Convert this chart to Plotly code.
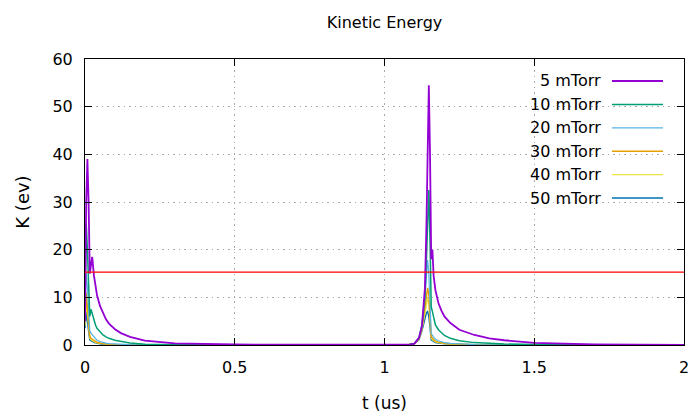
import plotly.graph_objects as go

# ---------------- data ----------------
t_us = [0, 0.004, 0.008, 0.012, 0.016, 0.02, 0.024, 0.03, 0.035, 0.04, 0.05, 0.06, 0.07, 0.08,
        0.1, 0.12, 0.15, 0.2, 0.3, 0.5, 0.8, 1.0, 1.08, 1.1, 1.115, 1.125, 1.135, 1.14, 1.144,
        1.148, 1.152, 1.156, 1.16, 1.164, 1.17, 1.18, 1.19, 1.2, 1.22, 1.25, 1.3, 1.35, 1.4,
        1.5, 1.7, 2.0]

k_5mtorr = [5, 30, 39, 30, 15, 17, 18.5, 14.5, 12.5, 10.5, 8.2, 6.6, 5.4, 4.5,
            3.3, 2.5, 1.7, 0.9, 0.35, 0.1, 0.03, 0, 0.05, 0.3, 1.5, 4, 12, 25, 45,
            54.5, 40, 18, 20, 14.5, 11.5, 8.8, 7.2, 6, 4.6, 3.2, 2.1, 1.4, 1.0,
            0.45, 0.12, 0.03]
k_10mtorr = [8, 25.5, 20, 10, 6, 7.5, 6.5, 5, 4.2, 3.5, 2.7, 2.1, 1.7, 1.4,
             1.0, 0.7, 0.4, 0.18, 0.06, 0.02, 0.01, 0, 0.05, 0.3, 1.5, 4, 10, 18, 28,
             32.5, 22, 8, 7, 5.5, 4.2, 3.2, 2.5, 2.0, 1.4, 0.9, 0.5, 0.3, 0.2,
             0.08, 0.02, 0]
k_20mtorr = [6, 15, 12, 6, 3, 2.5, 2.2, 1.6, 1.3, 1.0, 0.7, 0.5, 0.4, 0.3,
             0.2, 0.12, 0.07, 0.03, 0.01, 0, 0, 0, 0.05, 0.3, 1.5, 4.5, 10, 14, 17.8,
             15, 8, 2.5, 2, 1.6, 1.2, 0.9, 0.7, 0.5, 0.35, 0.2, 0.1, 0.05, 0.03,
             0.01, 0, 0]
k_30mtorr = [5, 11, 8, 4, 1.8, 1.4, 1.2, 0.9, 0.7, 0.55, 0.4, 0.3, 0.22, 0.17,
             0.1, 0.07, 0.04, 0.02, 0.01, 0, 0, 0, 0.05, 0.3, 1.3, 3.5, 8, 10.5, 12,
             10.5, 6, 1.8, 1.4, 1.1, 0.8, 0.6, 0.45, 0.35, 0.25, 0.15, 0.07, 0.04, 0.02,
             0.01, 0, 0]
k_40mtorr = [4, 9, 6.5, 3.2, 1.4, 1.1, 0.9, 0.7, 0.55, 0.45, 0.3, 0.22, 0.17, 0.13,
             0.08, 0.05, 0.03, 0.015, 0.005, 0, 0, 0, 0.05, 0.3, 1.2, 3.2, 7, 9, 9.8,
             8.5, 5, 1.4, 1.1, 0.9, 0.65, 0.5, 0.35, 0.28, 0.2, 0.12, 0.05, 0.03, 0.015,
             0.005, 0, 0]
k_50mtorr = [3.5, 7, 5, 2.5, 1.1, 0.9, 0.7, 0.55, 0.45, 0.35, 0.25, 0.18, 0.13, 0.1,
             0.06, 0.04, 0.02, 0.01, 0, 0, 0, 0, 0.05, 0.3, 1.1, 3, 5.8, 6.8, 7,
             6, 3.8, 1.1, 0.9, 0.7, 0.5, 0.4, 0.3, 0.22, 0.15, 0.1, 0.04, 0.02, 0.01,
             0, 0, 0]

series_names = ["5 mTorr", "10 mTorr", "20 mTorr", "30 mTorr", "40 mTorr", "50 mTorr"]
series_values = [k_5mtorr, k_10mtorr, k_20mtorr, k_30mtorr, k_40mtorr, k_50mtorr]
series_colors = ["#9400d3", "#009e73", "#56b4e9", "#e69f00", "#f0e442", "#0072b2"]
series_widths = [1.8, 1.5, 1.2, 1.5, 1.2, 1.5]

threshold_t = [0, 2]
threshold_k = [15.3, 15.3]

x_ticks = [0, 0.5, 1, 1.5, 2]
x_tick_labels = ["0", "0.5", "1", "1.5", "2"]
y_ticks = [0, 10, 20, 30, 40, 50, 60]

# ---------------- figure ----------------
FONT = "DejaVu Sans"
fig = go.Figure()

# draw from last to first so 5 mTorr sits on top
for name, vals, col, w in reversed(list(zip(series_names, series_values, series_colors, series_widths))):
    fig.add_trace(go.Scatter(x=t_us, y=vals, mode="lines", name=name,
                             line=dict(color=col, width=w), showlegend=False))

fig.add_trace(go.Scatter(x=threshold_t, y=threshold_k, mode="lines",
                         line=dict(color="#ff0000", width=1.2), showlegend=False))

# gnuplot-style legend (text right-aligned, sample line to the right)
L, R, T, B = 85, 684, 59, 345
def px_x(p):
    return (p - L) / (R - L)
def px_y(p):
    return (B - p) / (B - T)

row0, row_step = 81, 23.4
for i, (name, col, w) in enumerate(zip(series_names, series_colors, series_widths)):
    yy = px_y(row0 + i * row_step)
    fig.add_annotation(x=px_x(603), y=yy, xref="paper", yref="paper", text=name,
                       showarrow=False, xanchor="right", yanchor="middle",
                       font=dict(family=FONT, size=16, color="#000000"))
    fig.add_shape(type="line", xref="paper", yref="paper",
                  x0=px_x(612), x1=px_x(663), y0=yy, y1=yy,
                  line=dict(color=col, width=w))

axis_common = dict(showline=True, linecolor="#000000", linewidth=1, mirror="ticks",
                   ticks="inside", ticklen=7, tickcolor="#000000",
                   showgrid=True, gridcolor="#a8a8a8", griddash="1.5px,4px", gridwidth=1.2,
                   zeroline=False, ticklabeloverflow="allow",
                   tickfont=dict(family=FONT, size=16, color="#000000"))

fig.update_xaxes(range=[0, 2], tickvals=x_ticks, ticktext=x_tick_labels,
                 ticklabelstandoff=8,
                 title=dict(text="t (us)", font=dict(family=FONT, size=17, color="#000000"),
                            standoff=22),
                 **axis_common)
fig.update_yaxes(range=[0, 60], tickvals=y_ticks, ticklabelstandoff=8,
                 title=dict(text="K (ev)", font=dict(family=FONT, size=18, color="#000000"),
                            standoff=18),
                 **axis_common)

fig.update_layout(
    width=689, height=413,
    margin=dict(l=L, r=689 - R, t=T, b=413 - B, autoexpand=False),
    paper_bgcolor="#ffffff", plot_bgcolor="#ffffff",
    title=dict(text="Kinetic Energy", x=0.5 * (L + R) / 689, xanchor="center",
               y=1 - 22 / 413, yanchor="middle",
               font=dict(family=FONT, size=16, color="#000000")),
    showlegend=False,
)

fig.write_html("out.html", config={"displayModeBar": False},
               post_script="document.body.style.margin='0';document.body.style.overflow='hidden';")
